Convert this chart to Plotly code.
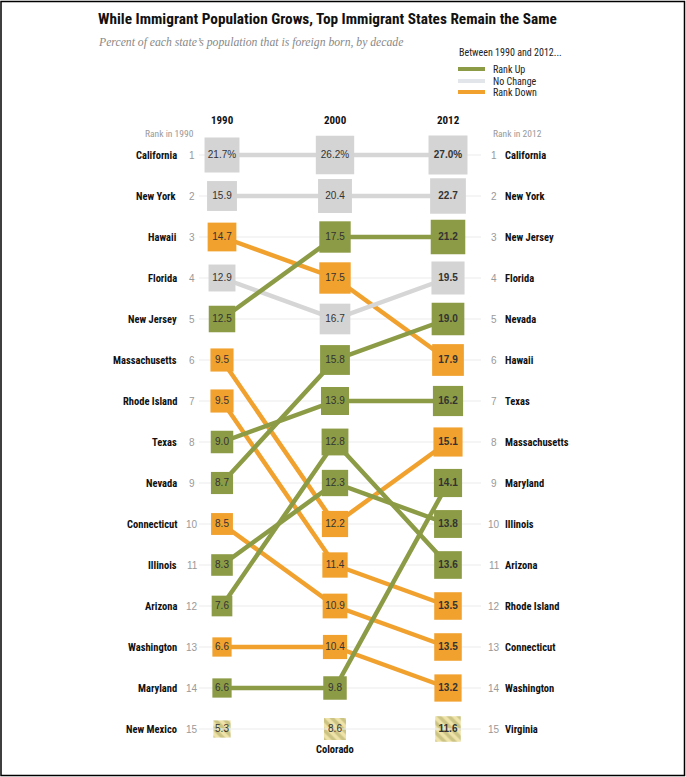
import plotly.graph_objects as go
import math

# ---------------- DATA ----------------
years = ["1990", "2000", "2012"]

states_1990 = ["California", "New York", "Hawaii", "Florida", "New Jersey", "Massachusetts",
               "Rhode Island", "Texas", "Nevada", "Connecticut", "Illinois", "Arizona",
               "Washington", "Maryland", "New Mexico"]
values_1990 = [21.7, 15.9, 14.7, 12.9, 12.5, 9.5, 9.5, 9.0, 8.7, 8.5, 8.3, 7.6, 6.6, 6.6, 5.3]

states_2000 = ["California", "New York", "New Jersey", "Hawaii", "Florida", "Nevada", "Texas",
               "Arizona", "Illinois", "Massachusetts", "Rhode Island", "Connecticut",
               "Washington", "Maryland", "Colorado"]
values_2000 = [26.2, 20.4, 17.5, 17.5, 16.7, 15.8, 13.9, 12.8, 12.3, 12.2, 11.4, 10.9, 10.4, 9.8, 8.6]

states_2012 = ["California", "New York", "New Jersey", "Florida", "Nevada", "Hawaii", "Texas",
               "Massachusetts", "Maryland", "Illinois", "Arizona", "Rhode Island",
               "Connecticut", "Washington", "Virginia"]
values_2012 = [27.0, 22.7, 21.2, 19.5, 19.0, 17.9, 16.2, 15.1, 14.1, 13.8, 13.6, 13.5, 13.5, 13.2, 11.6]

legend_labels = ["Rank Up", "No Change", "Rank Down"]

# ---------------- STYLE / LAYOUT CONSTANTS ----------------
W, H = 686, 777
COL0_PX, COL_DX = 222, 113      # pixel x of first column, spacing
ROW1_PX, ROW_DY = 155, 41       # pixel y of rank 1, spacing
BOX_K = 7.5                     # box side (px) = BOX_K * sqrt(value)

GREEN = "#8C9B45"
ORANGE = "#F0A12E"
GRAY_BOX = "#D4D4D4"
GRAY_LINE = "#D6D6D6"
GRID = "#EBEBEB"
HATCH_BG = "#EFE3AA"
HATCH_FG = "#A6A45C"

NARROW = "Liberation Sans Narrow, Arial Narrow, Roboto Condensed, sans-serif"
SANS = "Liberation Sans, Arial, sans-serif"
SERIF = "Liberation Serif, Times New Roman, serif"

x_range = [(0 - COL0_PX) / COL_DX, (W - COL0_PX) / COL_DX]
y_top = 1 - ROW1_PX / ROW_DY
y_bot = 1 + (H - ROW1_PX) / ROW_DY


def px_x(px):
    return (px - COL0_PX) / COL_DX


def paper_x(px):
    return px / W


def paper_y(py):
    return 1 - py / H


columns = [
    (states_1990, values_1990),
    (states_2000, values_2000),
    (states_2012, values_2012),
]

rank_maps = [{s: i + 1 for i, s in enumerate(st)} for st, _ in columns]


def category(state):
    if state in rank_maps[0] and state in rank_maps[2]:
        r0, r2 = rank_maps[0][state], rank_maps[2][state]
        if r2 < r0:
            return "up"
        if r2 > r0:
            return "down"
        return "same"
    return "other"


CAT_COLOR = {"up": GREEN, "down": ORANGE, "same": GRAY_LINE}
CAT_BOX = {"up": GREEN, "down": ORANGE, "same": GRAY_BOX}

fig = go.Figure()

# gridlines
gx, gy = [], []
for r in range(1, 16):
    gx += [px_x(199), px_x(481), None]
    gy += [r, r, None]
fig.add_trace(go.Scatter(x=gx, y=gy, mode="lines", line=dict(color=GRID, width=1),
                         hoverinfo="skip", showlegend=False))

# connecting lines
for s in states_1990:
    cat = category(s)
    if cat == "other":
        continue
    xs = [i for i in range(3) if s in rank_maps[i]]
    ys = [rank_maps[i][s] for i in xs]
    fig.add_trace(go.Scatter(x=xs, y=ys, mode="lines",
                             line=dict(color=CAT_COLOR[cat], width=4.5),
                             hoverinfo="skip", showlegend=False))

# boxes
for ci, (st, vals) in enumerate(columns):
    for i, (s, v) in enumerate(zip(st, vals)):
        rank = i + 1
        cat = category(s)
        side = BOX_K * math.sqrt(v)
        label = f"{v:.1f}%" if rank == 1 else f"{v:.1f}"
        if ci == 2:
            label = f"<b>{label}</b>"
        if cat == "other":
            h = side / ROW_DY
            w = side / COL_DX
            fig.add_trace(go.Bar(x=[ci], y=[h], base=[rank - h / 2], width=[w],
                                 marker=dict(color=HATCH_BG, line=dict(width=0),
                                             pattern=dict(shape="\\", bgcolor=HATCH_BG,
                                                          fgcolor=HATCH_FG, size=7,
                                                          solidity=0.5)),
                                 hoverinfo="skip", showlegend=False))
            fig.add_trace(go.Scatter(x=[ci], y=[rank], mode="text", text=[label],
                                     textfont=dict(family=SANS, size=10, color="#333"),
                                     hoverinfo="skip", showlegend=False))
        else:
            fig.add_trace(go.Scatter(x=[ci], y=[rank], mode="markers+text",
                                     marker=dict(symbol="square", size=side,
                                                 color=CAT_BOX[cat], line=dict(width=0)),
                                     text=[label], textposition="middle center",
                                     textfont=dict(family=SANS, size=10, color="#333"),
                                     hoverinfo="skip", showlegend=False))

annotations = []


def ann(**kw):
    kw.setdefault("showarrow", False)
    kw.setdefault("yanchor", "middle")
    kw.setdefault("xanchor", "center")
    annotations.append(kw)


# state labels and ranks
for i, s in enumerate(states_1990):
    r = i + 1
    ann(x=px_x(179), y=r, xref="x", yref="y", text=f"<b>{s}</b>", xanchor="right",
        font=dict(family=NARROW, size=10.5, color="#111"))
    ann(x=px_x(192), y=r, xref="x", yref="y", text=str(r),
        font=dict(family=SANS, size=10, color="#999"))
for i, s in enumerate(states_2012):
    r = i + 1
    ann(x=px_x(494), y=r, xref="x", yref="y", text=str(r),
        font=dict(family=SANS, size=10, color="#999"))
    ann(x=px_x(503), y=r, xref="x", yref="y", text=f"<b>{s}</b>", xanchor="left",
        font=dict(family=NARROW, size=10.5, color="#111"))
# Colorado under 2000 column
ann(x=1, y=15, xref="x", yref="y", text=f"<b>{states_2000[14]}</b>", yshift=-20,
    font=dict(family=NARROW, size=10.5, color="#111"))

# column headers
for ci, yr in enumerate(years):
    ann(x=ci, y=paper_y(120), xref="x", yref="paper", text=f"<b>{yr}</b>",
        font=dict(family=NARROW, size=11, color="#111"))
ann(x=px_x(196), y=paper_y(134), xref="x", yref="paper", text="Rank in 1990",
    xanchor="right", font=dict(family=NARROW, size=9.5, color="#999"))
ann(x=px_x(491), y=paper_y(134), xref="x", yref="paper", text="Rank in 2012",
    xanchor="left", font=dict(family=NARROW, size=9.5, color="#999"))

# title / subtitle
ann(x=paper_x(96), y=paper_y(19), xref="paper", yref="paper",
    text="<b>While Immigrant Population Grows, Top Immigrant States Remain the Same</b>",
    xanchor="left", font=dict(family=NARROW, size=15.3, color="#111"))
ann(x=paper_x(96), y=paper_y(42), xref="paper", yref="paper",
    text="<i>Percent of each state\u2019s population that is foreign born, by decade</i>",
    xanchor="left", font=dict(family=SERIF, size=11.7, color="#888"))

# legend
ann(x=paper_x(457), y=paper_y(53), xref="paper", yref="paper",
    text="Between 1990 and 2012...", xanchor="left",
    font=dict(family=NARROW, size=10, color="#222"))
legend_colors = [GREEN, "#E2E6EA", ORANGE]
legend_py = [69, 81, 92]
shapes = []
for name, col, py in zip(legend_labels, legend_colors, legend_py):
    shapes.append(dict(type="line", xref="paper", yref="paper",
                       x0=paper_x(458), x1=paper_x(485), y0=paper_y(py), y1=paper_y(py),
                       line=dict(color=col, width=4)))
    ann(x=paper_x(491), y=paper_y(py), xref="paper", yref="paper",
        text=name, xanchor="left", font=dict(family=NARROW, size=10, color="#222"))

# frame
shapes.append(dict(type="rect", xref="paper", yref="paper",
                   x0=paper_x(1), x1=paper_x(684.5), y0=paper_y(775.5), y1=paper_y(1.5),
                   line=dict(color="#000", width=1.5)))

fig.update_layout(
    width=W, height=H,
    margin=dict(l=0, r=0, t=0, b=0),
    paper_bgcolor="white", plot_bgcolor="white",
    barmode="overlay",
    xaxis=dict(range=x_range, visible=False, fixedrange=True),
    yaxis=dict(range=[y_bot, y_top], visible=False, fixedrange=True),
    annotations=annotations,
    shapes=shapes,
    showlegend=False,
)

fig.write_html("out.html", config={"displayModeBar": False},
               post_script="document.body.style.margin='0';document.body.style.overflow='hidden';")
